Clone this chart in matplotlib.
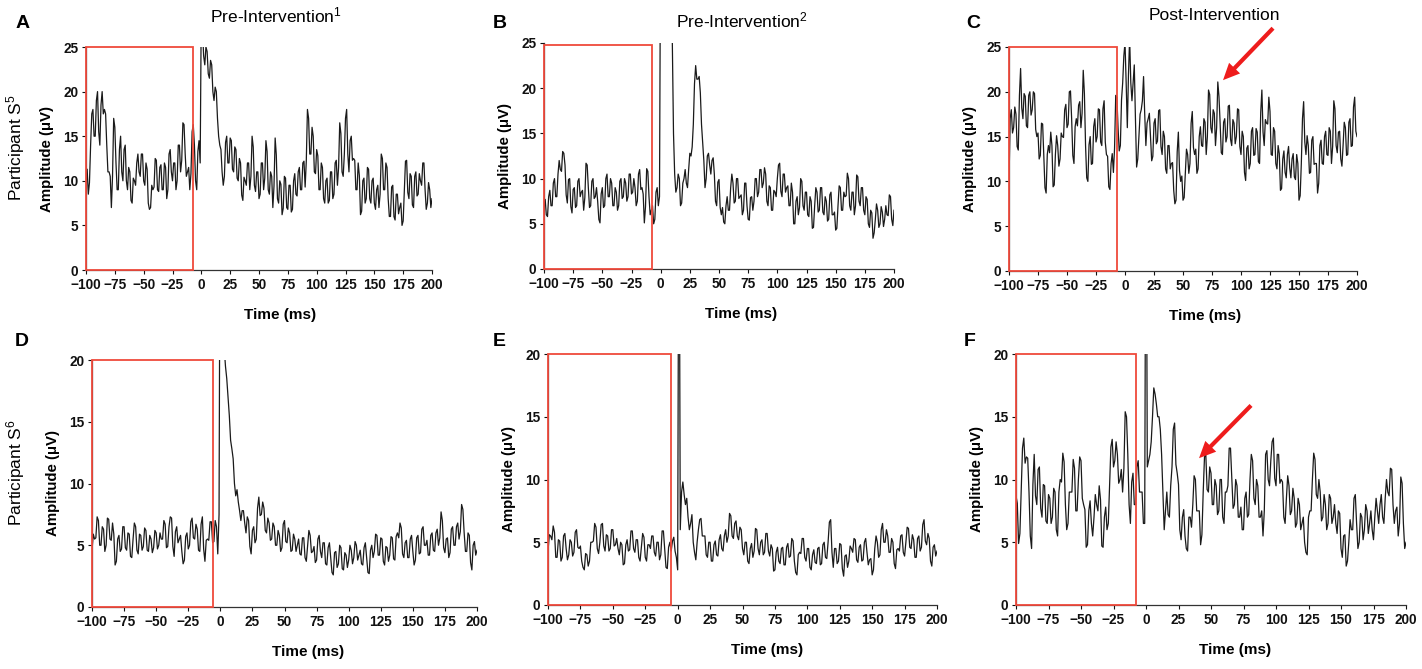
import matplotlib
matplotlib.use("Agg")
import matplotlib.pyplot as plt
import numpy as np
from matplotlib.patches import Rectangle

plt.rcParams['font.family'] = ['Liberation Sans', 'DejaVu Sans']
plt.rcParams['mathtext.fontset'] = 'custom'
plt.rcParams['mathtext.rm'] = 'Liberation Sans'
plt.rcParams['mathtext.it'] = 'Liberation Sans'
plt.rcParams['mathtext.bf'] = 'Liberation Sans:bold'

W, H = 1422, 669

# amplitude traces (uV).
# *_even: samples at -100, -98, ..., 200 ms; *_odd: samples at -99, -97, ..., 199 ms
a_even = [11, 8.5, 14, 18, 15, 20, 14, 20, 18, 14,
          11, 7, 17, 12, 9, 15, 10, 14, 9, 11,
          7.5, 10, 12, 11, 13, 10, 12, 7.5, 7, 9,
          12.5, 9, 11.5, 9, 12, 8, 13, 11, 12, 9,
          14, 11, 16.5, 13, 11, 9, 15.5, 14, 9, 14.5,
          30, 24, 25, 22, 23.5, 20, 20.5, 17, 14, 11,
          10.5, 15, 12, 14.5, 11, 13.5, 10, 12, 7.8, 10,
          12, 9, 15, 9.5, 11, 8, 12, 9, 14.5, 9,
          11, 7, 14.8, 8, 10, 6.2, 10.5, 7, 9.5, 6.5,
          10, 8.5, 11, 9, 12, 9.3, 18, 13, 16, 11,
          13.5, 9, 12, 8, 10, 7.5, 11, 8, 12, 9.5,
          16.5, 11, 13, 18, 11, 15, 12.5, 9, 12, 6.2,
          10, 7.5, 11.5, 8, 10, 7.5, 9, 7, 13, 9,
          12, 8, 6, 9.5, 5.6, 8.5, 7, 5, 9, 12.3,
          8, 10.5, 7, 11, 8.5, 10, 12, 9, 7.5, 9,
          8]
a_odd = [11.3, 9.8, 17.5, 15, 19, 15.5, 18.5, 17.5, 17.5, 11,
         10.5, 10.5, 16, 9, 13.5, 11, 13.5, 10, 11.5, 7.8,
         10.3, 9.5, 13, 10.5, 13, 9.5, 11.3, 6.8, 9.5, 9.3,
         12.3, 8.8, 11.8, 9, 11.5, 9, 13.5, 10, 12, 10,
         14, 12.3, 16.3, 10.5, 11.5, 10.8, 16.3, 10, 13.3, 12,
         27, 23, 24.5, 21.5, 23, 19, 20, 15, 13.5, 9.5,
         14.3, 12, 14.8, 11.3, 13.8, 10.3, 12.5, 8.4, 10.4, 9.5,
         12, 10.5, 13.8, 8.8, 11, 8.5, 12, 10.3, 13.3, 8.5,
         10.5, 9.4, 12.9, 7.5, 9.6, 6.9, 10.3, 6.8, 9.5, 6.8,
         10.8, 8.3, 11.5, 9, 12.2, 12.2, 17, 13, 15, 10.8,
         12.8, 9, 11.5, 7.5, 10.3, 7.8, 11, 8.5, 12.3, 11.5,
         15.3, 10.5, 17, 13, 14.5, 12.3, 12.3, 9, 10.6, 6.6,
         10.3, 8, 11.3, 7.5, 10.3, 6.8, 9.5, 8.5, 12.5, 9,
         11.5, 6, 9.3, 6, 8.5, 6.3, 7.5, 5.5, 12.2, 8.7,
         10.8, 7.3, 10.5, 8.3, 10.8, 9.5, 12, 6.8, 9.8, 7]

b_even = [7, 6, 8, 7, 9.5, 8, 10.5, 11, 13, 11.5,
          7.3, 10, 6.2, 9, 7, 10, 8.5, 6.5, 11.7, 9,
          7, 10, 8, 7.5, 5.1, 9, 7, 10.5, 8, 9.5,
          7, 8.5, 7, 10, 8, 9.5, 8, 10.5, 8.5, 9,
          7.5, 11, 9, 5.1, 11.1, 8, 6.5, 5, 8.5, 7,
          40, 40, 40, 40, 40, 25, 10.5, 9, 10, 7.3,
          10, 9.5, 11, 12.5, 16, 22.5, 21, 19.5, 14, 9,
          12.5, 11.5, 12, 10.5, 7, 9.9, 6, 5.2, 7, 6.5,
          9, 9.5, 7.5, 10, 8, 6, 9.5, 7, 5.4, 8,
          7.5, 10, 8.5, 11, 9.5, 10.5, 7, 9, 6.5, 8.5,
          10, 11.7, 8, 10.5, 9, 7, 9.5, 5, 7.5, 6,
          10, 7, 8.5, 6, 8, 4.5, 7, 8.5, 6.5, 9,
          6, 7.5, 5.5, 8.5, 6, 4.3, 7, 9, 6.5, 8,
          10.6, 7, 8.5, 6, 10.4, 7.5, 9, 6.5, 8, 5,
          6.5, 3.4, 5.5, 6.5, 5, 6.3, 5.5, 6, 8.2, 5.5,
          6.5]
b_odd = [7.7, 5.8, 8.7, 7, 10, 8, 12, 10.8, 12.8, 8.2,
         9.9, 6.9, 8.8, 6.8, 9.7, 8, 8.7, 7.9, 11.5, 6.8,
         9.7, 7.8, 9, 5.5, 8.3, 6.8, 10, 8, 10, 7,
         9, 6.5, 9.7, 7.8, 10, 7.5, 10.5, 8.3, 10, 7,
         10.5, 8.8, 8.3, 6.9, 10.8, 6, 7, 5.5, 9, 8,
         40, 40, 40, 40, 40, 15, 8.5, 10.5, 7, 9.5,
         11, 9, 12.8, 13.5, 20.5, 21, 21.3, 16, 12, 10,
         12.8, 10.5, 12.3, 7.5, 9.6, 6.8, 6.8, 5, 8, 6.5,
         10.5, 7.3, 10, 7.8, 8.2, 6.5, 9.5, 5.5, 7.9, 6.5,
         10, 8, 11, 9, 11.2, 7.5, 9.2, 6.5, 8.7, 8,
         11.5, 8.6, 10.5, 8.5, 9.2, 7, 8.5, 5, 8, 6.8,
         9.7, 6.5, 8.5, 5.8, 7.5, 4.6, 9, 6.3, 9, 6.3,
         8, 5.3, 8.2, 6, 6.3, 4.5, 9.2, 6.5, 8.5, 8.1,
         10, 6.5, 8.5, 7, 10.2, 7, 9, 6, 7.7, 4.6,
         6.2, 4, 7.2, 4.6, 6.9, 4.7, 7, 5.9, 8, 4.8]

c_even = [10, 18, 16, 17.5, 13.5, 22.6, 17, 19.5, 16, 20,
          18, 19.8, 15, 12.5, 16.5, 13, 8.7, 14, 15.5, 9.4,
          13, 14, 12.5, 15, 18, 16, 20, 17, 12, 17,
          18.5, 16, 22.4, 14, 10, 15, 12, 17, 15, 18,
          14, 19, 13, 9.4, 12, 11, 19.6, 16, 14, 21,
          25.5, 16, 26, 19, 23, 11.6, 15, 18, 21.7, 14,
          17, 15, 12.8, 17, 14.5, 18, 13, 15, 10.9, 14,
          12, 9, 7.9, 15.5, 10, 7.9, 11, 13, 12, 17.8,
          13, 10.9, 15, 14, 17, 13, 20.2, 16, 18, 14,
          21.1, 16.5, 13, 17, 15, 18.5, 14, 16.5, 15, 18,
          13, 15, 10.1, 14, 12, 16, 13, 15.5, 12, 20.2,
          14, 16.5, 19.4, 13, 16, 12, 14, 9, 12.5, 11,
          13, 11.5, 12.5, 10.5, 13, 7.9, 12, 18.9, 13, 14,
          11, 15, 12, 8.7, 14, 12, 15, 13, 16, 12,
          19, 14, 15.5, 12.5, 14, 16, 13, 17, 14, 19.4,
          15]
c_odd = [17, 15.4, 18.3, 13.9, 19.6, 18.2, 19.8, 16.2, 19.6, 17.4,
         20, 15.8, 15.4, 12.9, 16.4, 9.3, 13, 13.2, 14, 9.6,
         15.1, 11.7, 15.4, 14.9, 18.6, 16.4, 20.1, 12.9, 16.1, 16.2,
         18.9, 17.6, 19.8, 10.4, 14.1, 11.9, 16.1, 14.4, 18.1, 14.4,
         18.1, 14.4, 12.8, 9.1, 13.1, 13.7, 19.4, 13.4, 19.1, 24,
         21, 22, 21, 21, 17, 12.5, 17.5, 19, 17.5, 16.5,
         17.6, 12.3, 16.5, 14.2, 17.9, 13.9, 15.6, 11.4, 14, 11.4,
         12.1, 7.5, 13.3, 11.2, 10.6, 8.2, 13.6, 10.9, 16.5, 13.8,
         13.6, 11.4, 16.1, 13.9, 16.6, 15, 19.7, 15.4, 17.6, 16,
         19.5, 13.2, 16.6, 14.4, 18.4, 14.7, 16.9, 14.2, 18.1, 13.9,
         15.6, 11, 13.7, 11.4, 15.6, 12.9, 15.9, 12.2, 17.7, 15.5,
         16.9, 16.4, 17.8, 12.9, 15.6, 11.4, 13.1, 9.2, 13.4, 10.4,
         13.9, 10.4, 13.1, 10.2, 12, 8.4, 17, 14.4, 15.1, 10.9,
         14.6, 11.9, 12, 9.8, 14.6, 11.9, 15.6, 12.9, 15.6, 13.9,
         18.1, 13.2, 15.6, 11.7, 16.6, 12.9, 16.6, 13.9, 18.3, 15.6]

d_even = [4.6, 5.5, 7.3, 5, 6.5, 4.5, 7.2, 5.5, 6.8, 3.4,
          5.5, 4.5, 6.5, 4.8, 6, 4.1, 5.5, 6.5, 4.3, 5.8,
          4.9, 6.2, 4.5, 5.5, 4.8, 6, 5, 5.5, 7, 4.8,
          6.5, 7.2, 4.1, 6.5, 5.5, 4.5, 3.8, 6, 5, 7.2,
          5.5, 6.3, 4.5, 7.3, 3.7, 5.5, 6.9, 5.2, 7, 4.3,
          40, 40, 19.5, 17, 13.5, 12, 9, 8.5, 7, 7.8,
          6, 7, 4.3, 6.5, 5.5, 8.9, 7.5, 8, 6, 6.8,
          5.5, 6.5, 5, 5.8, 4.8, 7, 5.2, 6, 4.6, 5.5,
          5, 4.3, 5.6, 4, 5, 5.8, 4.5, 3.6, 5.5, 4.5,
          5.2, 3.5, 4.8, 4, 2.6, 4.5, 3.5, 4.8, 3, 4.2,
          3.8, 4.6, 4, 5, 4.2, 3.5, 4.8, 4, 2.7, 5,
          4.5, 5.8, 4.2, 5.5, 3.4, 4.8, 4.2, 5.6, 3.8, 6,
          6.8, 4.3, 5.2, 4, 5.5, 4.5, 3.8, 5.8, 4.4, 6.5,
          5, 4.2, 5.8, 4.6, 6, 5, 7.7, 4.8, 5.5, 4,
          6.3, 5, 6.5, 5.5, 8.3, 6, 4.5, 5.8, 3, 5.3,
          4.6]
d_odd = [5.9, 5.6, 7, 5, 6.3, 5, 7.1, 5.4, 5.9, 3.7,
         5.8, 4.7, 6.5, 4.6, 5.9, 4, 6.8, 4.6, 5.9, 4.6,
         6.4, 4.6, 5.8, 4.4, 6.2, 4.7, 6, 5.5, 6.7, 4.9,
         7.3, 4.9, 6.1, 5.2, 5.8, 3.5, 5.7, 4.7, 6.9, 5.6,
         6.7, 4.6, 6.7, 4.7, 5.4, 5.4, 6.9, 5.3, 6.5, 7.5,
         40, 21, 18.5, 15.5, 12.8, 10, 9.5, 7.8, 7.8, 6.8,
         7.3, 4.9, 6.2, 5.2, 8, 7.4, 8.5, 6.2, 7.2, 5.4,
         6.8, 5, 6.2, 4.5, 6.7, 5.3, 6.4, 4.5, 5.9, 4.5,
         5.5, 4.2, 5.6, 3.7, 6.2, 4.4, 4.9, 3.8, 5.8, 4,
         5.2, 3.4, 5.2, 2.8, 4.4, 3.2, 5, 3.1, 4.4, 3.2,
         5, 3.5, 5.3, 3.8, 4.6, 3.4, 5.2, 2.8, 4.6, 4,
         5.9, 4.2, 5.6, 3.7, 4.9, 3.7, 5.7, 3.9, 5.7, 5.6,
         6.4, 4, 5.4, 4, 5.8, 3.4, 5.6, 4.3, 6.3, 5,
         5.4, 4.2, 6, 4.5, 6.3, 5.6, 7, 4.4, 5.6, 4.4,
         6.5, 5, 6.8, 6.1, 7.9, 4.5, 6, 3.6, 5, 4.2]

e_even = [4.3, 5.5, 6.3, 3.8, 5.2, 3.5, 5.5, 4.5, 4, 5,
          4.2, 6, 4.5, 3.5, 2.8, 4, 3.5, 5, 6.5, 4.5,
          5, 6.5, 4.3, 5.5, 4.5, 6, 4.8, 4.5, 5, 3.2,
          4.8, 4.3, 5.9, 4.5, 5.2, 3.8, 4.6, 5.4, 3.5, 4.8,
          5.5, 4.2, 5, 3.6, 5.9, 4.5, 2.9, 5, 5.1, 4.3,
          2.8, 6, 9.8, 8, 7, 6.5, 5, 3.6, 6, 6.9,
          5.5, 4, 5, 3.5, 4.8, 4, 5.2, 4.5, 5.5, 5,
          7.3, 5.5, 6.5, 5.5, 6.2, 4.5, 5, 3.5, 4.5, 3.8,
          6.1, 4.5, 5, 4, 5.7, 4.3, 4.8, 2.7, 4.2, 3.5,
          4.5, 3.2, 4.6, 3.8, 5.3, 3.5, 2.4, 4.2, 5.3, 3.8,
          4.5, 3, 4, 3.4, 4.5, 3.2, 4.8, 3.8, 5, 6.8,
          3, 4.5, 3.5, 4.8, 2.3, 4, 3.5, 4.5, 5.3, 3.6,
          4.6, 3.5, 5, 4.2, 3.6, 2.4, 4.5, 5, 4, 6.5,
          5, 5.5, 4.2, 5, 2.9, 4.5, 5.5, 4.2, 5, 6.1,
          4.5, 5.2, 3.8, 5.5, 4.6, 6.8, 4.8, 5.3, 3.1, 4.8,
          4.3]
e_odd = [5.6, 5.2, 5.8, 3.8, 5.1, 3.8, 5.7, 3.6, 5.2, 3.9,
         5.8, 4.6, 4.7, 3, 4.1, 3.1, 5, 5.1, 6.2, 4.1,
         6.4, 4.7, 5.6, 4.3, 6, 4.7, 5.3, 4, 4.8, 3.3,
         5.2, 4.4, 5.9, 4.2, 5.2, 3.5, 5.7, 3.8, 4.8, 4.5,
         5.5, 3.9, 5, 4, 5.9, 3, 4.6, 4.3, 5.4, 3.8,
         40, 9, 8.8, 8.5, 6, 7.2, 4.2, 5, 6.8, 5.5,
         5.5, 3.8, 5, 3.5, 5.1, 3.9, 5.6, 4.3, 6, 5.5,
         7.1, 5.3, 6.7, 5.2, 6, 4, 5, 3.3, 4.9, 4.3,
         6, 4, 5.2, 4.2, 5.7, 3.9, 4.5, 2.8, 4.6, 3.3,
         4.6, 3.2, 4.9, 3.9, 5.1, 2.6, 4, 4.1, 5.3, 3.5,
         4.5, 2.8, 4.4, 3.3, 4.6, 3.3, 5, 3.7, 6.6, 4.2,
         4.5, 3.3, 4.9, 2.9, 3.9, 3, 4.7, 4.2, 5.2, 3.4,
         4.8, 3.6, 5.3, 3.2, 3.7, 2.8, 5.5, 3.8, 6, 5,
         6, 4.2, 5.3, 3.3, 4.4, 4.3, 5.6, 3.9, 6.2, 4.6,
         5.6, 3.8, 5.3, 4.3, 6.4, 5.1, 5.7, 3.5, 4.6, 3.9]

f_even = [8.7, 4.9, 9, 13.3, 11.8, 9, 4.5, 12, 8, 11,
          7, 9.5, 6.5, 8.5, 7, 9, 5.5, 10, 12.1, 8,
          6.5, 9, 11.6, 7.5, 10, 11.5, 8, 4.6, 7.5, 6.5,
          7, 8, 9.5, 4.7, 7, 6, 9.5, 13.2, 11.5, 12,
          10, 9, 15.4, 12, 6.5, 10.5, 8, 11.5, 9, 6.5,
          40, 11.5, 13, 17.3, 16, 15, 12, 6, 9, 7,
          11, 14.5, 10.5, 6, 7, 5.5, 4.3, 7, 8, 10,
          7.5, 4.8, 9, 12, 9, 10.5, 8, 9.5, 7.5, 10,
          6.5, 9, 12.5, 10, 8, 9.5, 7, 6, 8.5, 7,
          10, 11.5, 8, 9.5, 7, 5.5, 12, 10, 11.5, 13.3,
          9.5, 12, 10, 7, 8.5, 9.5, 7.5, 8.5, 6.5, 8,
          6.5, 5, 4, 7.5, 10, 11.6, 8.5, 9, 7, 8,
          6.5, 8.5, 7, 6.5, 7.5, 4.5, 5.5, 3.1, 5, 6,
          8.5, 6.5, 5, 7, 6, 7.5, 6.5, 6, 7, 7.5,
          8, 7, 8.5, 9, 10.9, 8, 7.5, 5.5, 10.2, 6.5,
          5]
f_odd = [8.1, 5.7, 12.5, 11.3, 11.7, 5.5, 9.6, 8.7, 10.8, 7.7,
         9.6, 6.7, 8.8, 6.5, 9.3, 6, 9, 9.8, 11.4, 6,
         9, 9, 10.9, 7.5, 11.8, 8.5, 7.6, 4.8, 8.3, 5.5,
         8.8, 7.5, 8.4, 4.6, 7.8, 6.5, 12.6, 11, 13, 9.7,
         10.8, 10.9, 15, 8, 9.8, 8, 11, 9, 9, 6.5,
         11, 12, 15, 16.8, 15, 14, 9, 7.5, 7.2, 9.5,
         14, 11.2, 9.6, 5.2, 7.6, 4.5, 7, 6.2, 10.3, 7.5,
         7.5, 5.6, 11.8, 9.2, 11, 8, 10, 7.2, 10, 7,
         9, 9.5, 12.5, 7.7, 10, 7, 7.8, 6, 9, 7.2,
         12, 8.5, 10, 7, 7.5, 7.5, 12.3, 9.5, 13, 10.1,
         12, 9.7, 9.8, 6.5, 10.3, 7.2, 9.3, 6.2, 8.5, 6,
         7, 4.2, 7, 7.5, 12.1, 8.8, 10, 6.7, 8.8, 6,
         8.8, 6.5, 8, 5.7, 7.3, 3.8, 5.6, 3.5, 6.8, 6,
         8.8, 4.5, 7.3, 5.2, 8, 5.7, 7.5, 5.2, 8.5, 6.5,
         8.8, 6.5, 10, 8.7, 10.8, 6.5, 7.8, 6.5, 9.7, 4.5]

even_lists = [a_even, b_even, c_even, d_even, e_even, f_even]
odd_lists = [a_odd, b_odd, c_odd, d_odd, e_odd, f_odd]
letters = ['A', 'B', 'C', 'D', 'E', 'F']
y_max = [25, 25, 25, 20, 20, 20]
box_end = [-7, -7.4, -7, -5.7, -5, -7.7]
box_top = [25, 24.8, 25, 20, 20, 20]
x_ticks = list(range(-100, 201, 25))
titles = ['Pre-Intervention$^{1}$', 'Pre-Intervention$^{2}$', 'Post-Intervention']
row_labels = ['Participant S$^{5}$', 'Participant S$^{6}$']

# axes boxes in pixels: left, right, top, bottom
boxes = [(86, 432, 47, 270), (544, 894, 43, 269), (1009, 1357, 47, 271),
         (92, 477, 360, 607), (548, 937, 354, 605), (1016, 1406, 354, 605)]

fig = plt.figure(figsize=(W / 100, H / 100), dpi=100)


def fx(x):
    return x / W


def fy(y):
    return 1 - y / H


def merge(ev, od):
    # put the even-ms and odd-ms readings back in time order
    m = min(len(ev) - 1, len(od))
    out = np.empty(2 * m + 1)
    out[0::2] = ev[:m + 1]
    out[1::2] = od[:m]
    return out


red = '#ef4a3c'
axes = []
for i, (l, r, t, b) in enumerate(boxes):
    ax = fig.add_axes([fx(l), fy(b), (r - l) / W, (b - t) / H])
    vals = merge(even_lists[i], odd_lists[i])
    tt = np.linspace(-100, 200, len(vals))
    ax.plot(tt, vals, color='#1a1a1a', lw=0.9)
    ax.set_xlim(-100, 200)
    ax.set_ylim(0, y_max[i])
    ax.set_xticks(x_ticks)
    ax.set_yticks(range(0, y_max[i] + 1, 5))
    for s in ['top', 'right']:
        ax.spines[s].set_visible(False)
    for s in ['left', 'bottom']:
        ax.spines[s].set_linewidth(0.9)
        ax.spines[s].set_color('#333333')
    ax.tick_params(direction='out', length=3, width=0.8, pad=2.5,
                   labelsize=9.8, colors='#111111')
    for lab in ax.get_xticklabels() + ax.get_yticklabels():
        lab.set_fontweight('bold')
    ax.add_patch(Rectangle((-100, 0), box_end[i] + 100, box_top[i], fill=False,
                           edgecolor=red, lw=1.3, clip_on=False, zorder=3))
    # axis labels
    fig.text(fx(l + 0.562 * (r - l)), fy(b + 45), 'Time (ms)', ha='center',
             va='center', fontsize=11, fontweight='bold')
    fig.text(fx(l - 39), fy((t + b) / 2), 'Amplitude (\u03bcV)', ha='center',
             va='center', rotation=90, fontsize=10.8, fontweight='bold')
    axes.append(ax)

# panel letters
letter_pos = [(23, 23), (500, 23), (973, 23), (22, 342), (499, 342), (970, 342)]
for s, (x, y) in zip(letters, letter_pos):
    fig.text(fx(x), fy(y), s, ha='center', va='center', fontsize=14, fontweight='bold')

# column titles
title_pos = [(276, 15), (742, 20), (1214, 16)]
for s, (x, y) in zip(titles, title_pos):
    fig.text(fx(x), fy(y), s, ha='center', va='center', fontsize=12.5)

# row labels
for s, y in zip(row_labels, [148, 473]):
    fig.text(fx(16), fy(y), s, ha='center', va='center', rotation=90, fontsize=12.5)

# red arrows
arrow_props = dict(facecolor='#ee1c1c', edgecolor='none', width=3, headwidth=11,
                   headlength=12, shrink=0)
axes[2].annotate('', xy=(84.5, 21.3), xytext=(127.6, 27.1), arrowprops=arrow_props,
                 annotation_clip=False)
axes[5].annotate('', xy=(40.8, 11.7), xytext=(80.8, 15.9), arrowprops=arrow_props,
                 annotation_clip=False)

fig.savefig('out.png', dpi=100)
